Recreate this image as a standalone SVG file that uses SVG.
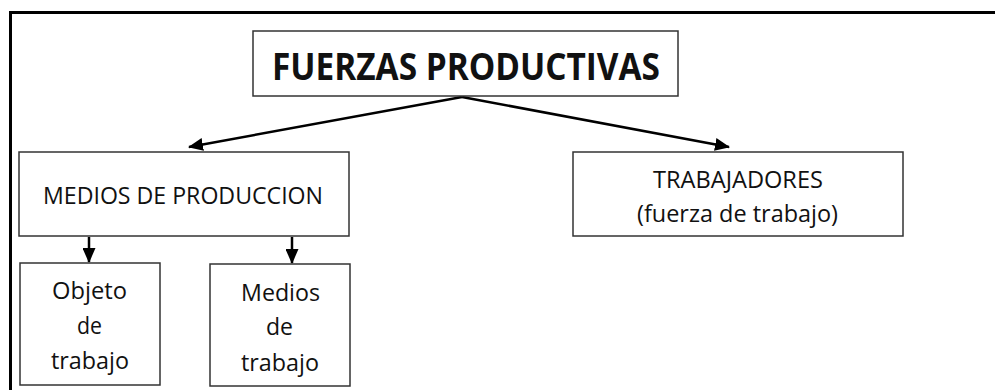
<svg xmlns="http://www.w3.org/2000/svg" width="995" height="390" viewBox="0 0 995 390">
  <style>
    .box { fill: #ffffff; stroke: #333333; stroke-width: 1.5; }
    .t { font-family: "Open Sans", "Noto Sans", sans-serif; fill: #111111; }
    .title { font-weight: bold; font-size: 38px; }
    .lbl { font-size: 24.5px; }
    .sm { font-size: 23.5px; }
    .conn { stroke: #000000; stroke-width: 2.5; fill: none; }
  </style>
  <defs>
    <marker id="ah" markerUnits="userSpaceOnUse" markerWidth="15" markerHeight="13" refX="14" refY="6.5" orient="auto">
      <path d="M0,0 L15,6.5 L0,13 Z" fill="#000000"/>
    </marker>
  </defs>
  <rect x="0" y="0" width="995" height="390" fill="#ffffff"/>
  <path d="M10.5,390 V12.5 H995" fill="none" stroke="#000000" stroke-width="3"/>

  <g id="connectors">
    <path class="conn" d="M462,97 L189,147" marker-end="url(#ah)"/>
    <path class="conn" d="M462,97 L729,147" marker-end="url(#ah)"/>
    <path class="conn" d="M89,237 L89,262" marker-end="url(#ah)"/>
    <path class="conn" d="M292,237 L292,263" marker-end="url(#ah)"/>
  </g>

  <g id="fuerzas">
    <rect class="box" x="253" y="31" width="425" height="65"/>
    <text class="t title" x="272" y="80" textLength="388" lengthAdjust="spacingAndGlyphs">FUERZAS PRODUCTIVAS</text>
  </g>
  <g id="medios-produccion">
    <rect class="box" x="19" y="152" width="330" height="84"/>
    <text class="t lbl" x="43" y="204" textLength="280" lengthAdjust="spacingAndGlyphs">MEDIOS DE PRODUCCION</text>
  </g>
  <g id="trabajadores">
    <rect class="box" x="573" y="152" width="330" height="84"/>
    <text class="t lbl" x="653" y="188" textLength="170" lengthAdjust="spacingAndGlyphs">TRABAJADORES</text>
    <text class="t lbl" x="637" y="222" textLength="201" lengthAdjust="spacingAndGlyphs">(fuerza de trabajo)</text>
  </g>
  <g id="objeto-trabajo">
    <rect class="box" x="20" y="263" width="140" height="122"/>
    <text class="t sm" x="52" y="299" textLength="75" lengthAdjust="spacingAndGlyphs">Objeto</text>
    <text class="t sm" x="77" y="334" textLength="25" lengthAdjust="spacingAndGlyphs">de</text>
    <text class="t sm" x="51" y="369" textLength="78" lengthAdjust="spacingAndGlyphs">trabajo</text>
  </g>
  <g id="medios-trabajo">
    <rect class="box" x="210" y="264" width="140" height="122"/>
    <text class="t sm" x="241" y="301" textLength="79" lengthAdjust="spacingAndGlyphs">Medios</text>
    <text class="t sm" x="266" y="335" textLength="27" lengthAdjust="spacingAndGlyphs">de</text>
    <text class="t sm" x="241" y="371" textLength="78" lengthAdjust="spacingAndGlyphs">trabajo</text>
  </g>
</svg>
